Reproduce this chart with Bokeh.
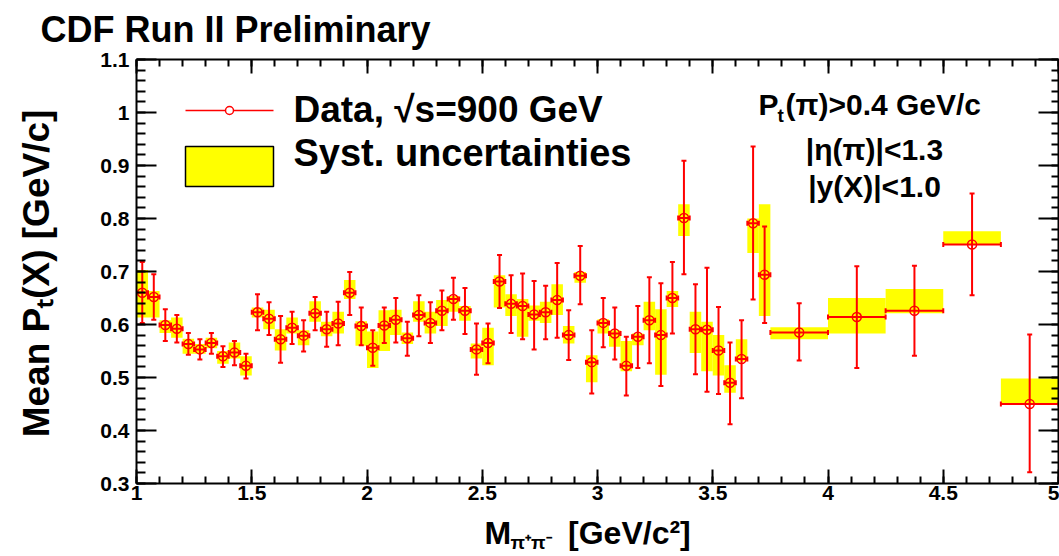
import numpy as np
from bokeh.plotting import figure
from bokeh.models import Range1d, FixedTicker, CustomJSTickFormatter, LinearAxis, Label, ColumnDataSource
from bokeh.embed import file_html
from bokeh.resources import INLINE

# ---------------- data ----------------
bin_edges = [1.00, 1.05, 1.10, 1.15, 1.20, 1.25, 1.30, 1.35, 1.40, 1.45, 1.50,
             1.55, 1.60, 1.65, 1.70, 1.75, 1.80, 1.85, 1.90, 1.95, 2.00,
             2.05, 2.10, 2.15, 2.20, 2.25, 2.30, 2.35, 2.40, 2.45, 2.50,
             2.55, 2.60, 2.65, 2.70, 2.75, 2.80, 2.85, 2.90, 2.95, 3.00,
             3.05, 3.10, 3.15, 3.20, 3.25, 3.30, 3.35, 3.40, 3.45, 3.50,
             3.55, 3.60, 3.65, 3.70, 3.75, 4.00, 4.25, 4.50, 4.75, 5.00]

mean_pt = [0.660, 0.652, 0.599, 0.592, 0.563, 0.553, 0.565, 0.540, 0.547, 0.522,
           0.623, 0.611, 0.572, 0.594, 0.579, 0.621, 0.591, 0.602, 0.660, 0.597,
           0.556, 0.598, 0.609, 0.574, 0.618, 0.603, 0.626, 0.648, 0.626, 0.553,
           0.565, 0.681, 0.639, 0.635, 0.619, 0.623, 0.646, 0.580, 0.692, 0.529,
           0.603, 0.583, 0.522, 0.577, 0.608, 0.580, 0.650, 0.801, 0.591, 0.590,
           0.551, 0.490, 0.535, 0.791, 0.694, 0.585, 0.614, 0.626, 0.751, 0.450]

stat_low = [0.603, 0.609, 0.569, 0.566, 0.543, 0.534, 0.545, 0.520, 0.523, 0.498,
            0.589, 0.580, 0.528, 0.563, 0.549, 0.589, 0.558, 0.561, 0.618, 0.561,
            0.522, 0.565, 0.566, 0.541, 0.578, 0.565, 0.589, 0.609, 0.582, 0.505,
            0.527, 0.631, 0.584, 0.572, 0.553, 0.572, 0.575, 0.533, 0.638, 0.470,
            0.557, 0.534, 0.466, 0.518, 0.527, 0.484, 0.583, 0.695, 0.506, 0.473,
            0.469, 0.412, 0.461, 0.647, 0.603, 0.532, 0.518, 0.541, 0.655, 0.321]

stat_high = [0.718, 0.695, 0.629, 0.618, 0.584, 0.572, 0.584, 0.559, 0.569, 0.545,
             0.657, 0.642, 0.616, 0.624, 0.608, 0.652, 0.624, 0.643, 0.699, 0.632,
             0.589, 0.632, 0.650, 0.605, 0.655, 0.642, 0.664, 0.688, 0.669, 0.602,
             0.602, 0.731, 0.693, 0.696, 0.682, 0.673, 0.716, 0.627, 0.748, 0.589,
             0.650, 0.632, 0.577, 0.635, 0.689, 0.678, 0.718, 0.909, 0.676, 0.707,
             0.633, 0.566, 0.608, 0.936, 0.785, 0.640, 0.710, 0.711, 0.847, 0.581]

syst_low = [0.613, 0.613, 0.584, 0.575, 0.545, 0.545, 0.555, 0.526, 0.536, 0.504,
            0.613, 0.591, 0.551, 0.583, 0.561, 0.605, 0.578, 0.583, 0.648, 0.560,
            0.518, 0.550, 0.580, 0.563, 0.605, 0.583, 0.597, 0.624, 0.607, 0.536,
            0.523, 0.632, 0.616, 0.577, 0.607, 0.603, 0.618, 0.564, 0.679, 0.491,
            0.583, 0.558, 0.512, 0.561, 0.589, 0.505, 0.633, 0.767, 0.546, 0.512,
            0.504, 0.471, 0.530, 0.735, 0.616, 0.572, 0.583, 0.621, 0.752, 0.451]

syst_high = [0.703, 0.663, 0.608, 0.613, 0.573, 0.563, 0.575, 0.550, 0.566, 0.540,
             0.632, 0.628, 0.591, 0.613, 0.589, 0.644, 0.605, 0.624, 0.684, 0.606,
             0.587, 0.627, 0.628, 0.585, 0.644, 0.624, 0.646, 0.654, 0.635, 0.564,
             0.594, 0.693, 0.657, 0.648, 0.636, 0.643, 0.676, 0.597, 0.699, 0.542,
             0.610, 0.589, 0.569, 0.583, 0.643, 0.629, 0.663, 0.827, 0.624, 0.605,
             0.580, 0.523, 0.572, 0.800, 0.827, 0.595, 0.650, 0.667, 0.776, 0.498]

x_ticks = [1.0, 1.5, 2.0, 2.5, 3.0, 3.5, 4.0, 4.5, 5.0]
x_tick_labels = ["1", "1.5", "2", "2.5", "3", "3.5", "4", "4.5", "5"]
y_ticks = [0.3, 0.4, 0.5, 0.6, 0.7, 0.8, 0.9, 1.0, 1.1]
y_tick_labels = ["0.3", "0.4", "0.5", "0.6", "0.7", "0.8", "0.9", "1", "1.1"]

# ---------------- layout ----------------
W, H = 1059, 556
FL, FR, FT, FB = 136, 1058, 59, 483   # frame edges in canvas pixels
XMIN, XMAX, YMIN, YMAX = 1.0, 5.0, 0.3, 1.1
RED = "#ff0000"
YEL = "#ffff00"
FONT = "Liberation Sans"
BASE_SHIFT = 0.36   # label anchor is the text middle: baseline lies this many em below


def dx(px):
    return XMIN + (px - FL) * (XMAX - XMIN) / (FR - FL)


def dy(py):
    return YMIN + (FB - py) * (YMAX - YMIN) / (FB - FT)


p = figure(width=W, height=H, x_range=Range1d(XMIN, XMAX), y_range=Range1d(YMIN, YMAX),
           output_backend="svg", toolbar_location=None,
           min_border_left=FL, min_border_right=W - FR, min_border_top=FT, min_border_bottom=H - FB)
p.grid.visible = False
p.outline_line_color = None
p.background_fill_color = "white"
p.border_fill_color = "white"

x_minor = [round(v, 2) for v in np.arange(1.0, 5.0001, 0.1)]
y_minor = [round(v, 2) for v in np.arange(0.3, 1.1001, 0.02)]


def fmt(ticks, labels):
    return CustomJSTickFormatter(args=dict(t=ticks, l=labels), code="""
        for (let i = 0; i < t.length; i++) { if (Math.abs(t[i] - tick) < 1e-9) return l[i]; }
        return '';""")


def style(ax, ticks, minors, labels, maj, mnr, show):
    ax.ticker = FixedTicker(ticks=ticks, minor_ticks=minors)
    ax.axis_line_color = "black"
    ax.axis_line_width = 2
    ax.major_tick_in = maj
    ax.major_tick_out = 0
    ax.minor_tick_in = mnr
    ax.minor_tick_out = 0
    ax.major_tick_line_width = 2
    ax.minor_tick_line_width = 2
    ax.major_tick_line_color = "black"
    ax.minor_tick_line_color = "black"
    if show:
        ax.formatter = fmt(ticks, labels)
        ax.major_label_text_font = FONT
        ax.major_label_text_font_style = "bold"
        ax.major_label_text_font_size = "21px"
        ax.major_label_text_color = "black"
    else:
        ax.formatter = fmt(ticks, ["" for _ in labels])
        ax.major_label_text_font_size = "0px"
        ax.major_label_standoff = 0


style(p.xaxis[0], x_ticks, x_minor, x_tick_labels, 14, 7, True)
p.xaxis[0].major_label_standoff = 2
style(p.yaxis[0], y_ticks, y_minor, y_tick_labels, 20, 9, True)
p.yaxis[0].major_label_standoff = 7

ax_top = LinearAxis()
style(ax_top, x_ticks, x_minor, x_tick_labels, 14, 7, False)
p.add_layout(ax_top, "above")
ax_right = LinearAxis()
style(ax_right, y_ticks, y_minor, y_tick_labels, 20, 7, False)
p.add_layout(ax_right, "right")

# ---------------- data glyphs ----------------
lo = bin_edges[:-1]
hi = bin_edges[1:]
xc = [(a + b) / 2 for a, b in zip(lo, hi)]
src = ColumnDataSource(dict(lo=lo, hi=hi, x=xc, y=mean_pt, slo=stat_low, shi=stat_high,
                            ylo=syst_low, yhi=syst_high))

p.quad(left="lo", right="hi", bottom="ylo", top="yhi", source=src,
       fill_color=YEL, line_color=None)
p.segment(x0="x", y0="slo", x1="x", y1="shi", source=src, line_color=RED, line_width=2)
p.segment(x0="lo", y0="y", x1="hi", y1="y", source=src, line_color=RED, line_width=2)
p.scatter(x="x", y="slo", source=src, marker="dash", size=5, line_color=RED, line_width=2)
p.scatter(x="x", y="shi", source=src, marker="dash", size=5, line_color=RED, line_width=2)
p.scatter(x="lo", y="y", source=src, marker="dash", angle=np.pi / 2, size=5, line_color=RED, line_width=2)
p.scatter(x="hi", y="y", source=src, marker="dash", angle=np.pi / 2, size=5, line_color=RED, line_width=2)
p.scatter(x="x", y="y", source=src, marker="circle", size=9, fill_color=None,
          line_color=RED, line_width=1.5)

# ---------------- legend (drawn by hand, ROOT style) ----------------
p.segment(x0=[dx(185)], y0=[dy(110)], x1=[dx(273)], y1=[dy(110)], line_color=RED, line_width=1.5)
p.scatter(x=[dx(229)], y=[dy(110)], marker="circle", size=8, fill_color="white",
          line_color=RED, line_width=1.5)
p.quad(left=[dx(185)], right=[dx(273)], bottom=[dy(186)], top=[dy(146)],
       fill_color=YEL, line_color="black", line_width=1.5)


def lab(text, px, py, size, align="left", rotated=False, side=None):
    # (px, py): baseline start (or baseline centre) in canvas pixels
    if rotated:
        ax_, ay_ = px - BASE_SHIFT * size, py
    else:
        ax_, ay_ = px, py - BASE_SHIFT * size
    lbl = Label(x=dx(ax_), y=dy(ay_), text=text, text_font=FONT, text_font_style="bold",
                text_font_size=f"{size}px", text_color="black", text_align=align,
                text_baseline="alphabetic", angle=(np.pi / 2 if rotated else 0.0))
    if side is None:
        p.add_layout(lbl)
    else:
        p.add_layout(lbl, side)


lab("Data, \u221as=900 GeV", 293, 122, 37)
lab("Syst. uncertainties", 293, 166, 38)

# cuts annotation
lab("P", 758, 115, 30)
lab("t", 777, 122, 19)
lab("(\u03c0)>0.4 GeV/c", 785, 115, 30)
lab("|\u03b7(\u03c0)|<1.3", 874, 160, 30, align="center")
lab("|y(X)|<1.0", 874, 197, 30, align="center")

# title (outside the frame -> side panel, so it is not clipped)
lab("CDF Run II Preliminary", 40, 42, 36, side="above")

# x-axis title
lab("M\u2002\u2002\u2002\u00a0[GeV/c\u00b2]", 484, 544, 32, side="below")
lab("\u03c0\u207a\u03c0\u207b", 510, 549, 19, side="left")

# y-axis title (rotated)
lab("Mean P\u209c(X) [GeV/c]", 49, 273, 37, align="center", rotated=True, side="left")

open("out.html", "w").write(file_html(p, INLINE))
